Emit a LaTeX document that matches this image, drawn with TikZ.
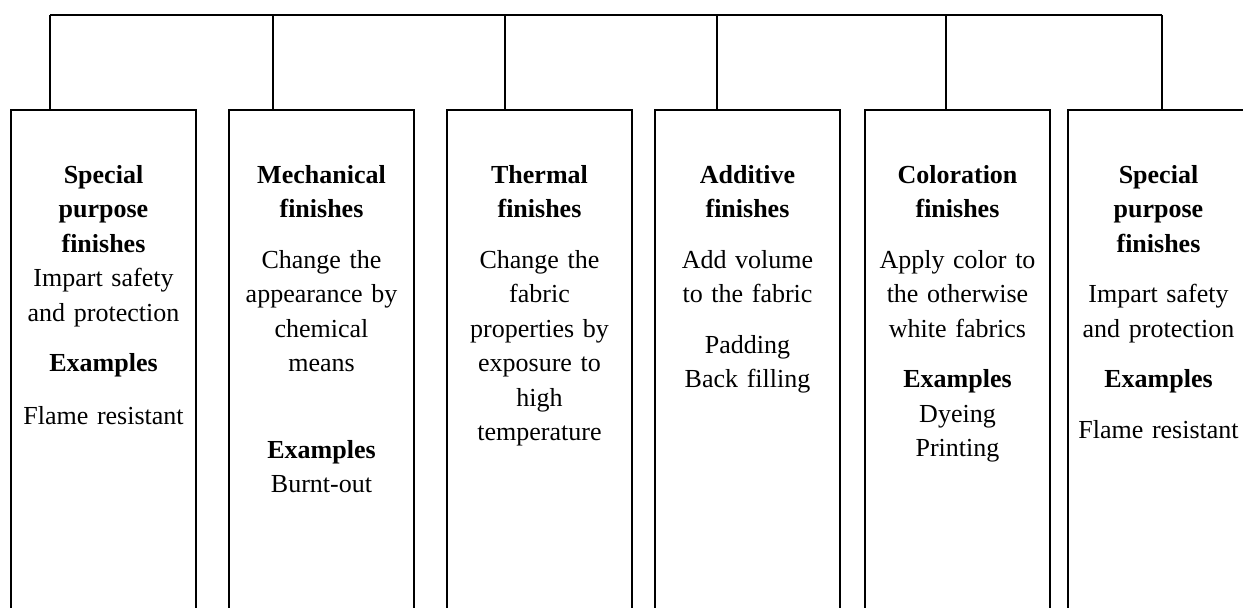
\documentclass[tikz,border=0pt]{standalone}
\usepackage{fontspec}
\setmainfont{Liberation Serif}
\usetikzlibrary{positioning}

\begin{document}
\begin{tikzpicture}[x=0.5pt, y=-0.5pt, line width=0.9pt,
finbox/.style={rectangle, draw=black, inner sep=0pt, outer sep=0pt, minimum width=92.5pt, minimum height=260pt},
fintext/.style={text width=90pt, align=center, inner sep=0pt, font=\fontsize{13}{17.25}\selectfont},
]
\useasboundingbox (0,0) rectangle (1243,608);
\clip (0,0) rectangle (1243,608);

%Nodes
\node[finbox, anchor=north west]      (special1)        at (11,110)    {};
\node[finbox]      (mech)           [right=16.5pt of special1]      {};
\node[finbox]      (thermal)        [right=16.5pt of mech]          {};
\node[finbox]      (additive)       [right=11.5pt of thermal]       {};
\node[finbox]      (coloration)     [right=12.5pt of additive]      {};
\node[finbox]      (special2)       [right=9pt of coloration]       {};

\node[fintext]     (special1T)      [below=24pt of special1.north]
  {\strut\textbf{Special}\\ \textbf{purpose}\\ \textbf{finishes}\\ Impart safety\\ and protection\\[8pt]
   \textbf{Examples}\\[9pt] Flame resistant};
\node[fintext]     (mechT)          [below=24pt of mech.north]
  {\strut\textbf{Mechanical}\\ \textbf{finishes}\\[8pt] Change the\\ appearance by\\ chemical\\ means\\[26pt]
   \textbf{Examples}\\ Burnt-out};
\node[fintext]     (thermalT)       [below=24pt of thermal.north]
  {\strut\textbf{Thermal}\\ \textbf{finishes}\\[8pt] Change the\\ fabric\\ properties by\\ exposure to\\ high\\ temperature};
\node[fintext]     (additiveT)      [below=24pt of additive.north]
  {\strut\textbf{Additive}\\ \textbf{finishes}\\[8pt] Add volume\\ to the fabric\\[8pt] Padding\\ Back filling};
\node[fintext]     (colorationT)    [below=24pt of coloration.north]
  {\strut\textbf{Coloration}\\ \textbf{finishes}\\[8pt] Apply color to\\ the otherwise\\ white fabrics\\[8pt]
   \textbf{Examples}\\ Dyeing\\ Printing};
\node[fintext]     (special2T)      [below=24pt of special2.north, xshift=-1pt]
  {\strut\textbf{Special}\\ \textbf{purpose}\\ \textbf{finishes}\\[8pt] Impart safety\\ and protection\\[8pt]
   \textbf{Examples}\\[8pt] Flame resistant};

%Top rail
\coordinate (t1) at (50,15);
\coordinate (t2) at (273,15);
\coordinate (t3) at (505,15);
\coordinate (t4) at (717,15);
\coordinate (t5) at (946,15);
\coordinate (t6) at (1162,15);

%Lines
\draw (t1) -- (t6);
\draw (t1) -- (t1 |- special1.north);
\draw (t2) -- (t2 |- mech.north);
\draw (t3) -- (t3 |- thermal.north);
\draw (t4) -- (t4 |- additive.north);
\draw (t5) -- (t5 |- coloration.north);
\draw (t6) -- (t6 |- special2.north);
\end{tikzpicture}
\end{document}
